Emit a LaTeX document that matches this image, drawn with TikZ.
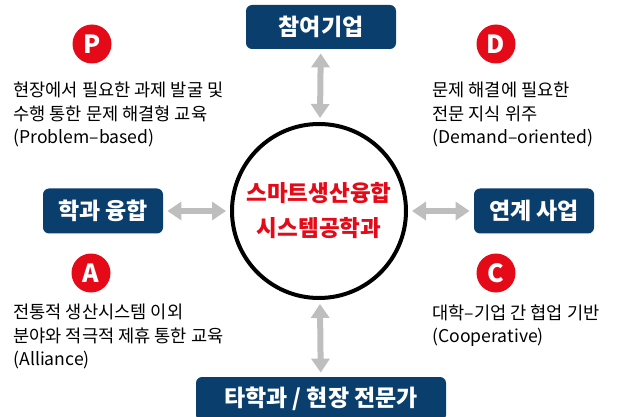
\documentclass[tikz,border=0pt]{standalone}
\usepackage{fontspec}
\setmainfont{Noto Sans CJK KR}
\usetikzlibrary{arrows.meta}
\definecolor{navy}{RGB}{10,62,108}
\definecolor{pointred}{RGB}{228,10,24}
\definecolor{arrowgray}{RGB}{190,190,190}

\begin{document}
\begin{tikzpicture}[x=1pt, y=1pt, node distance=184pt, thick]
\tikzstyle{hub} = [circle, draw, line width=4pt, minimum size=174pt, text=pointred,
                   align=center, font=\bfseries\fontsize{22.5}{35}\selectfont]
\tikzstyle{block} = [rectangle, fill=navy, text=white, rounded corners=6pt,
                     minimum width=120pt, minimum height=45pt,
                     font=\bfseries\fontsize{23}{25}\selectfont]
\tikzstyle{badge} = [circle, fill=pointred, text=white, minimum size=39pt, inner sep=0pt,
                     font=\bfseries\fontsize{25}{28}\selectfont]
\tikzstyle{desc} = [anchor=north west, align=left, inner sep=0pt,
                    font=\fontsize{17.6}{23.5}\selectfont]
\tikzstyle{link} = [draw=arrowgray, line width=6pt,
                    {Triangle[width=18pt,length=14pt]}-{Triangle[width=18pt,length=14pt]},
                    shorten <=4pt, shorten >=4pt]

\useasboundingbox (0,0) rectangle (625,416);

\node [hub] (center) at (319,205) {스마트생산융합\\시스템공학과};
\node [block, above of=center, xshift=2pt, minimum width=150pt, minimum height=44pt] (company) {참여기업};
\node [block, left of=center, node distance=216pt] (merge) {학과 융합};
\node [block, right of=center, node distance=215pt] (project) {연계 사업};
\node [block, below of=center, node distance=188pt, xshift=2pt, minimum width=250pt, minimum height=44pt] (expert) {타학과 / 현장 전문가};

% PDAC
\node [badge] (p) at (92,372) {P};
\node [badge] (d) at (496,372) {D};
\node [badge] (a) at (91,143) {A};
\node [badge] (c) at (496,143) {C};

\node [desc] (ptext) at (13,334) {현장에서 필요한 과제 발굴 및\\수행 통한 문제 해결형 교육\\(Problem–based)};
\node [desc] (dtext) at (432,334) {문제 해결에 필요한\\전문 지식 위주\\(Demand–oriented)};
\node [desc] (atext) at (13,112) {전통적 생산시스템 이외\\분야와 적극적 제휴 통한 교육\\(Alliance)};
\node [desc] (ctext) at (432,112) {대학–기업 간 협업 기반\\(Cooperative)};

\path [link] (company) -- (center);
\path [link] (merge) -- (center);
\path [link] (project) -- (center);
\path [link] (expert) -- (center);
\end{tikzpicture}
\end{document}
